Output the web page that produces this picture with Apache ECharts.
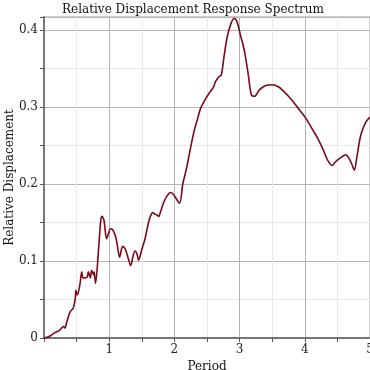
<!DOCTYPE html>
<html><head><meta charset="utf-8">
<script src="https://cdn.jsdelivr.net/npm/echarts@6/dist/echarts.min.js"></script>
<style>html,body{margin:0;padding:0;background:#fff}#c{width:370px;height:370px}</style>
</head><body><div id="c"></div>
<script>
const periods = [0.0,0.05,0.10,0.17,0.22,0.25,0.30,0.32,0.35,0.40,0.45,0.48,0.49,0.51,0.55,0.58,0.60,0.66,0.68,0.71,0.73,0.76,0.77,0.79,0.84,0.87,0.89,0.92,0.96,0.99,1.02,1.05,1.09,1.12,1.16,1.19,1.21,1.25,1.29,1.33,1.37,1.40,1.43,1.45,1.50,1.55,1.60,1.64,1.67,1.70,1.73,1.76,1.78,1.84,1.89,1.94,1.98,2.02,2.08,2.13,2.18,2.25,2.30,2.35,2.40,2.48,2.55,2.60,2.63,2.68,2.72,2.76,2.81,2.87,2.92,2.96,3.02,3.05,3.08,3.13,3.18,3.23,3.30,3.40,3.50,3.60,3.68,3.76,3.84,3.93,4.02,4.11,4.20,4.28,4.35,4.42,4.46,4.50,4.56,4.63,4.68,4.72,4.76,4.80,4.86,4.94,5.00];
const displacement = [0.0,0.001,0.003,0.007,0.009,0.011,0.015,0.013,0.021,0.034,0.039,0.052,0.062,0.056,0.069,0.086,0.078,0.079,0.086,0.078,0.088,0.082,0.086,0.071,0.119,0.152,0.158,0.153,0.129,0.136,0.142,0.141,0.134,0.123,0.105,0.116,0.119,0.115,0.104,0.094,0.108,0.113,0.108,0.101,0.115,0.129,0.149,0.160,0.163,0.161,0.160,0.158,0.162,0.177,0.185,0.189,0.187,0.182,0.175,0.201,0.218,0.248,0.268,0.283,0.298,0.311,0.320,0.326,0.333,0.339,0.342,0.365,0.391,0.409,0.415,0.411,0.391,0.382,0.370,0.344,0.316,0.314,0.322,0.328,0.329,0.326,0.320,0.313,0.305,0.295,0.285,0.272,0.259,0.245,0.231,0.224,0.228,0.231,0.235,0.238,0.233,0.226,0.218,0.236,0.264,0.281,0.287];
const xTicks = [1,2,3,4,5];
const yTicks = [0,0.1,0.2,0.3,0.4];
const titleText = 'Relative Displacement Response Spectrum';
const xName = 'Period';
const yName = 'Relative Displacement';

const data = periods.map((p,i)=>[p, displacement[i]]);
const font = 'DejaVu Serif';
const chart = echarts.init(document.getElementById('c'));
chart.setOption({
  animation:false,
  title:{text:titleText,left:188,textAlign:'center',top:-1,textStyle:{fontFamily:font,fontSize:12,fontWeight:'normal',color:'#111'}},
  grid:{left:44,right:0,top:17,bottom:32,show:true,borderColor:'#999',borderWidth:1,containLabel:false,outerBoundsMode:'none'},
  xAxis:{type:'value',min:0,max:5,interval:1,name:xName,nameLocation:'middle',nameGap:23,nameMoveOverlap:false,
    nameTextStyle:{fontFamily:font,fontSize:12,color:'#111'},
    axisLine:{lineStyle:{color:'#777',width:2}},
    axisTick:{length:4,lineStyle:{color:'#555'}},
    minorTick:{show:true,splitNumber:2,length:4,lineStyle:{color:'#555'}},
    axisLabel:{fontFamily:font,fontSize:12,color:'#222',margin:6,hideOverlap:false,formatter:v=>xTicks.includes(v)?String(v):''},
    splitLine:{lineStyle:{color:'#b4b4b4',width:1}},
    minorSplitLine:{show:true,lineStyle:{color:'#eee6e8',width:1}}},
  yAxis:{type:'value',min:0,max:0.417,interval:0.1,name:yName,nameLocation:'middle',nameGap:28,nameMoveOverlap:false,
    nameTextStyle:{fontFamily:font,fontSize:12,color:'#111'},
    axisLine:{show:true,lineStyle:{color:'#777',width:2}},
    axisTick:{show:true,length:4,lineStyle:{color:'#555'}},
    minorTick:{show:true,splitNumber:2,length:4,lineStyle:{color:'#555'}},
    axisLabel:{fontFamily:font,fontSize:12,color:'#222',margin:6,showMaxLabel:false,
      formatter:v=>{const t=yTicks.find(k=>Math.abs(k-v)<1e-9);return t===undefined?'':String(t);}},
    splitLine:{lineStyle:{color:'#b4b4b4',width:1}},
    minorSplitLine:{show:true,lineStyle:{color:'#eee6e8',width:1}}},
  series:[{type:'line',data:data,showSymbol:false,smooth:0.3,clip:true,
    lineStyle:{color:'#7a0a18',width:1.6}}]
});
</script></body></html>
